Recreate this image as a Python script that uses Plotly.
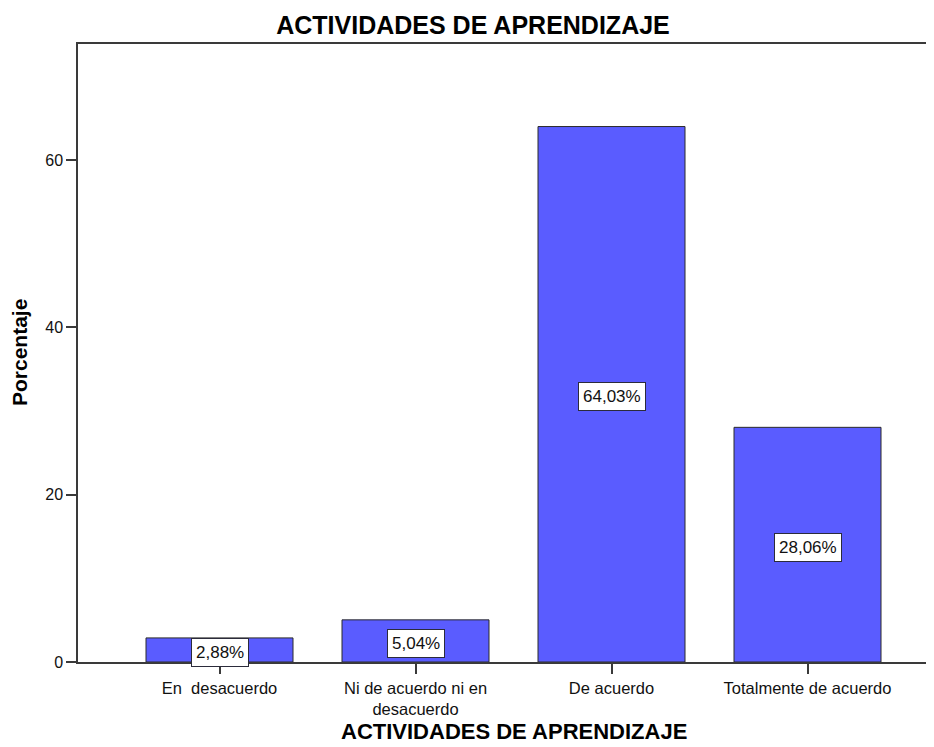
import plotly.graph_objects as go

categories = ["En  desacuerdo", "Ni de acuerdo ni en<br>desacuerdo", "De acuerdo", "Totalmente de acuerdo"]
percentages = [2.88, 5.04, 64.03, 28.06]
value_labels = ["2,88%", "5,04%", "64,03%", "28,06%"]
y_ticks = [0, 20, 40, 60]

FONT = "Liberation Sans, Arial, sans-serif"
BAR_COLOR = "rgb(90,92,255)"
AXIS_COLOR = "#3a3a3a"

# the page has an 8px body margin, so the figure is shrunk to fit the window
OFF = 8
W, H = 934 - OFF, 747 - OFF
ML, MR, MT = 78 - OFF, 0, 44 - OFF
PLOT_BOTTOM = 662 - OFF
MB = H - PLOT_BOTTOM
PW, PH = W - ML - MR, H - MT - MB
UNIT = 196.0  # px per category
X0 = -0.722

x_idx = list(range(len(categories)))

fig = go.Figure()
fig.add_trace(go.Bar(
    x=x_idx,
    y=percentages,
    width=0.75,
    marker=dict(color=BAR_COLOR, line=dict(color="#2b2b2b", width=1)),
    hoverinfo="skip",
    showlegend=False,
))

for xi, v, lab in zip(x_idx, percentages, value_labels):
    fig.add_annotation(
        x=xi, y=v / 2, xref="x", yref="y",
        text=lab, showarrow=False,
        font=dict(family=FONT, size=17, color="#111"),
        bgcolor="white", bordercolor="#2b2b3b", borderwidth=1, borderpad=4,
        yshift=-2.5,
    )

# axis titles
fig.add_annotation(
    x=(514 - OFF - ML) / PW, y=-(H - PLOT_BOTTOM - 1) / PH, xref="paper", yref="paper",
    text="<b>ACTIVIDADES DE APRENDIZAJE</b>", showarrow=False,
    xanchor="center", yanchor="bottom",
    font=dict(family=FONT, size=22, color="#000"),
)
fig.add_annotation(
    x=(19 - OFF - ML) / PW, y=0.5, xref="paper", yref="paper",
    text="<b>Porcentaje</b>", showarrow=False, textangle=-90,
    xanchor="center", yanchor="middle",
    font=dict(family=FONT, size=21, color="#000"),
)

fig.update_layout(
    width=W, height=H,
    margin=dict(l=ML, r=MR, t=MT, b=MB, autoexpand=False),
    paper_bgcolor="white", plot_bgcolor="white",
    font=dict(family=FONT, color="#111"),
    title=dict(
        text="<b>ACTIVIDADES DE APRENDIZAJE</b>",
        x=(473 - OFF) / W, xref="container", xanchor="center",
        y=1 - (25 - OFF) / H, yref="container", yanchor="middle",
        font=dict(family=FONT, size=25, color="#000"),
    ),
    bargap=0.25,
)

fig.update_xaxes(
    range=[X0, X0 + PW / UNIT], automargin=False,
    tickmode="array", tickvals=x_idx, ticktext=categories,
    tickfont=dict(family=FONT, size=16.5, color="#111"),
    ticks="outside", ticklen=10, tickwidth=1.5, tickcolor=AXIS_COLOR,
    showline=True, linecolor=AXIS_COLOR, linewidth=1.5, mirror=True,
    showgrid=False, zeroline=False,
)

fig.update_yaxes(
    range=[0, 73.9], automargin=False,
    tickmode="array", tickvals=y_ticks, ticktext=[str(t) for t in y_ticks],
    tickfont=dict(family=FONT, size=16, color="#111"),
    ticks="outside", ticklen=10, tickwidth=1.5, tickcolor=AXIS_COLOR,
    showline=True, linecolor=AXIS_COLOR, linewidth=1.5,
    showgrid=False, zeroline=False,
)

fig.write_html("out.html")
